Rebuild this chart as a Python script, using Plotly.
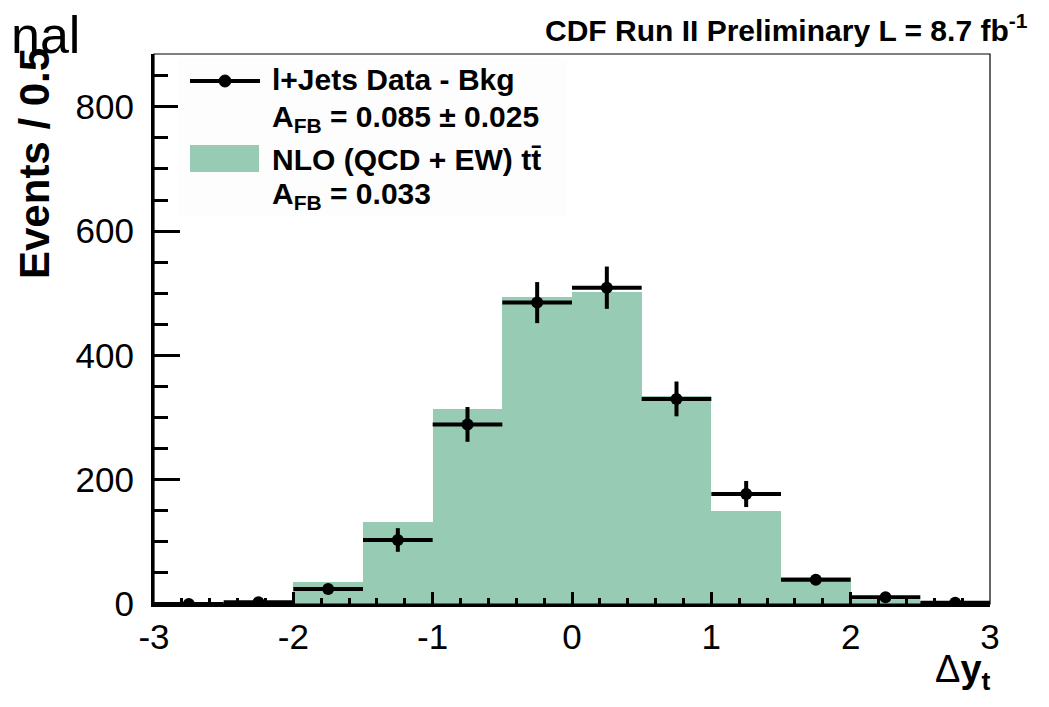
import plotly.graph_objects as go

# ---- data ----
bin_centers = [-2.75, -2.25, -1.75, -1.25, -0.75, -0.25, 0.25, 0.75, 1.25, 1.75, 2.25, 2.75]
bin_half_width = [0.25] * 12
data_values = [0, 3, 24, 103, 289, 485, 509, 330, 177, 39, 11, 2]
data_errors = [2, 3, 8, 19, 28, 33, 34, 28, 21, 8, 6, 3]
nlo_values = [0, 2, 36, 132, 314, 494, 502, 335, 150, 43, 6, 1]
x_ticks = [-3, -2, -1, 0, 1, 2, 3]
y_ticks = [0, 200, 400, 600, 800]

W, H = 1049, 707
OFF = 8  # page body margin
PL, PT, PW, PH = 154, 54, 836, 550  # plot area in page pixels
L, T = PL - OFF, PT - OFF
R = W - L - PW
B = H - T - PH


def px(xp):
    return (xp - PL) / PW


def py(yp):
    return (PT + PH - yp) / PH


GREEN = "#97cbb4"
FONT = "Liberation Sans, Arial, sans-serif"

fig = go.Figure()
fig.add_trace(go.Bar(
    x=bin_centers, y=nlo_values, width=0.5,
    marker=dict(color=GREEN, line=dict(width=0)),
    showlegend=False, hoverinfo="skip",
))
fig.add_trace(go.Scatter(
    x=bin_centers, y=data_values, mode="markers",
    marker=dict(color="black", size=12),
    error_x=dict(type="data", array=bin_half_width, thickness=4, width=0, color="black"),
    error_y=dict(type="data", array=data_errors, thickness=4, width=0, color="black"),
    showlegend=False,
))

fig.update_layout(
    width=W, height=H,
    margin=dict(l=L, r=R, t=T, b=B),
    paper_bgcolor="white", plot_bgcolor="white",
    bargap=0,
    font=dict(family=FONT, color="black"),
    xaxis=dict(
        range=[-3, 3], tickvals=x_ticks, ticktext=[str(v) for v in x_ticks],
        showgrid=False, zeroline=False, showline=True, linewidth=3, linecolor="black",
        ticks="inside", ticklen=12, tickwidth=3, tickcolor="black",
        minor=dict(dtick=0.2, ticks="inside", ticklen=6, tickwidth=3, tickcolor="black"),
        tickfont=dict(size=35, family=FONT), ticklabelstandoff=0,
    ),
    yaxis=dict(
        range=[0, 885], tickvals=y_ticks, ticktext=[str(v) for v in y_ticks],
        showgrid=False, zeroline=False, showline=True, linewidth=3, linecolor="black",
        ticks="inside", ticklen=26, tickwidth=3, tickcolor="black",
        minor=dict(dtick=50, ticks="inside", ticklen=14, tickwidth=3, tickcolor="black"),
        tickfont=dict(size=35, family=FONT), ticklabelstandoff=10,
    ),
)

# thin frame (top/right)
fig.add_shape(type="rect", xref="paper", yref="paper", x0=0, x1=1, y0=0, y1=1,
              line=dict(color="black", width=1.2), layer="above")

# legend background
fig.add_shape(type="rect", xref="paper", yref="paper",
              x0=px(178), x1=px(567), y0=py(216), y1=py(58),
              fillcolor="#fdfdfd", line=dict(width=0), layer="above")
# legend: data sample
fig.add_shape(type="line", xref="paper", yref="paper",
              x0=px(190), x1=px(260), y0=py(81), y1=py(81),
              line=dict(color="black", width=4), layer="above")
fig.add_shape(type="circle", xref="paper", yref="paper",
              x0=px(219), x1=px(231), y0=py(87), y1=py(75),
              fillcolor="black", line=dict(color="black", width=1), layer="above")
# legend: NLO sample
fig.add_shape(type="rect", xref="paper", yref="paper",
              x0=px(190), x1=px(259), y0=py(172), y1=py(145),
              fillcolor=GREEN, line=dict(width=0), layer="above")

BOLD = dict(family=FONT, size=30, color="black", weight="bold")
legend_texts = [
    ("l+Jets Data - Bkg", 80),
    ("A<sub>FB</sub> = 0.085 ± 0.025", 119),
    ("NLO (QCD + EW) tt\u0304", 159),
    ("A<sub>FB</sub> = 0.033", 195),
]
for txt, yc in legend_texts:
    fig.add_annotation(text=txt, xref="paper", yref="paper", x=px(270), y=py(yc),
                       xanchor="left", yanchor="middle", showarrow=False, font=BOLD)

# header
fig.add_annotation(text="CDF Run II Preliminary L = 8.7 fb<sup>-1</sup>",
                   xref="paper", yref="paper", x=px(1030), y=py(28),
                   xanchor="right", yanchor="middle", showarrow=False,
                   font=dict(family=FONT, size=30, color="black", weight="bold"))

# y-axis title
fig.add_annotation(text="Events / 0.5", xref="paper", yref="paper", x=px(35), y=py(164),
                   xanchor="center", yanchor="middle", textangle=-90, showarrow=False,
                   font=dict(family=FONT, size=42, color="black", weight="bold"))

# x-axis title
fig.add_annotation(text="\u0394<b>y</b><sub><b>t</b></sub>", xref="paper", yref="paper",
                   x=px(993), y=py(672), xanchor="right", yanchor="middle", showarrow=False,
                   font=dict(family=FONT, size=38, color="black"))

# remnant text at top left
fig.add_annotation(text="nal", xref="paper", yref="paper", x=px(9), y=py(35),
                   xanchor="left", yanchor="middle", showarrow=False,
                   font=dict(family=FONT, size=52, color="black"))

fig.write_html("out.html")
